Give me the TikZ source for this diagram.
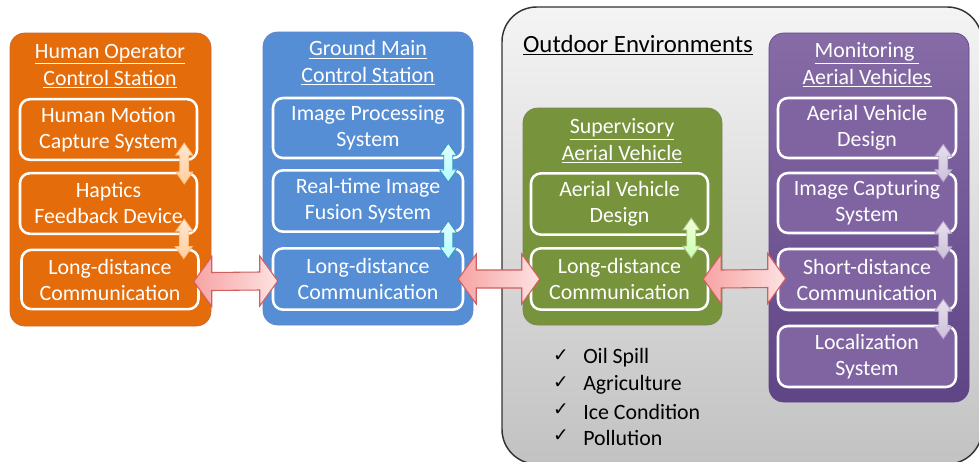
\documentclass[tikz,border=0pt]{standalone}
\usepackage{fontspec}
\setmainfont{Carlito}
\newfontfamily\symfont{DejaVu Sans}
\usetikzlibrary{calc}
\definecolor{orangeC}{HTML}{E46C0A}
\definecolor{blueC}{HTML}{558ED5}
\definecolor{greenC}{HTML}{77933C}
\definecolor{purpleC}{HTML}{8064A2}
\definecolor{purpleD}{HTML}{5F4585}
\definecolor{grayT}{HTML}{F4F4F4}
\definecolor{grayB}{HTML}{C2C2C2}
\definecolor{pinkL}{HTML}{F7A3A3}
\definecolor{pinkR}{HTML}{FDE2E2}
\definecolor{pinkD}{HTML}{D25E5E}
\tikzset{
  outerbox/.style={rounded corners=11pt, inner sep=0pt, line width=0.5pt},
  innerbox/.style={draw=white, line width=1.9pt, rounded corners=7.5pt, text=white,
     align=center, inner sep=0pt, font=\fontsize{16.4}{19.5}\selectfont},
  titletext/.style={text=white, align=center, inner sep=0pt, font=\fontsize{16.4}{19.5}\selectfont},
  bigarrow/.style={left color=pinkL, right color=pinkR, draw=pinkD, line width=0.8pt, line join=miter},
  oarrow/.style={top color=orange!18, bottom color=orange!38, draw=orange!50!white, line width=0.6pt},
  barrow/.style={top color=cyan!12, bottom color=cyan!30, draw=cyan!50!teal, line width=0.6pt},
  garrow/.style={top color=green!10!lime!15, bottom color=lime!40!green!30, draw=greenC!60!white, line width=0.6pt},
  parrow/.style={top color=purpleC!20, bottom color=purpleC!40, draw=purpleC!60!white, line width=0.6pt},
  checkitem/.style={anchor=west, inner sep=0pt, font=\fontsize{16.4}{19.5}\selectfont},
  checkmark/.style={inner sep=0pt, font=\symfont\fontsize{14}{14}\selectfont},
}
\newcommand\harrowpath[3]{%
  \path[#3] (#1) -- ($(#1)+(18,-25)$) -- ($(#1)+(18,-9)$) -- ($(#2)+(-18,-9)$) -- ($(#2)+(-18,-25)$) -- (#2)
   -- ($(#2)+(-18,25)$) -- ($(#2)+(-18,9)$) -- ($(#1)+(18,9)$) -- ($(#1)+(18,25)$) -- cycle;}
\newcommand\varrowpath[3]{%
  \path[#3] (#1) -- ($(#1)+(8.5,12)$) -- ($(#1)+(4.5,12)$) -- ($(#2)+(4.5,-12)$) -- ($(#2)+(8.5,-12)$) -- (#2)
   -- ($(#2)+(-8.5,-12)$) -- ($(#2)+(-4.5,-12)$) -- ($(#1)+(-4.5,12)$) -- ($(#1)+(-8.5,12)$) -- cycle;}
\begin{document}
\begin{tikzpicture}[x=0.75pt,y=-0.75pt]
\path[use as bounding box, fill=white] (0,0) rectangle (979,461);
\begin{scope}
\clip (0,0) rectangle (979,461);
\path[top color=grayT, bottom color=grayB, draw=black!80, line width=1.1pt, rounded corners=26pt]
  (502,7) rectangle (982,464);
\end{scope}
\node[anchor=center, inner sep=0pt, font=\fontsize{18.6}{22}\selectfont] (outdoor) at (638,45) {\underline{Outdoor Environments}};

% orange
\node[outerbox, fill=orangeC, draw=orangeC!70!purpleC, minimum width=150.75pt, minimum height=219.75pt] (orange) at (110.5,179.5) {};
\node[titletext] (otitle) at (110,66) {\underline{Human Operator}\\[0.5pt]\underline{Control Station}};
\node[innerbox, fill=orangeC, minimum width=132.75pt, minimum height=45.5pt] (o1) at (108.5,129.5) {Human Motion\\Capture System};
\node[innerbox, fill=orangeC, minimum width=132.75pt, minimum height=45.5pt] (o2) at (108.5,203.5) {Haptics\\Feedback Device};
\node[innerbox, fill=orangeC, minimum width=132.75pt, minimum height=44.5pt] (o3) at (110,279.5) {Long-distance\\Communication};

% blue
\node[outerbox, fill=blueC, draw=blueC!70!purpleC, minimum width=157.5pt, minimum height=219.75pt] (blue) at (368,178.5) {};
\node[titletext] (btitle) at (368,63) {\underline{Ground Main}\\[0.5pt]\underline{Control Station}};
\node[innerbox, fill=blueC, minimum width=142.5pt, minimum height=45pt] (b1) at (368,128) {Image Processing\\System};
\node[innerbox, fill=blueC, minimum width=142.5pt, minimum height=46pt] (b2) at (368,201) {Real-time Image\\Fusion System};
\node[innerbox, fill=blueC, minimum width=142.5pt, minimum height=46pt] (b3) at (368,279) {Long-distance\\Communication};

% green
\node[outerbox, fill=greenC, draw=greenC!70!purpleC, minimum width=149.25pt, minimum height=162.75pt] (green) at (622.5,216.5) {};
\node[titletext] (gtitle) at (622,141) {\underline{Supervisory}\\[0.5pt]\underline{Aerial Vehicle}};
\node[innerbox, fill=greenC, minimum width=132.75pt, minimum height=46pt] (g1) at (619.5,204) {Aerial Vehicle\\Design};
\node[innerbox, fill=greenC, minimum width=132.75pt, minimum height=46pt] (g2) at (619.5,279) {Long-distance\\Communication};

% purple
\node[outerbox, top color=purpleC!95!white, bottom color=purpleD, draw=purpleD, minimum width=150pt, minimum height=276.75pt] (purple) at (869,217.5) {};
\node[titletext] (ptitle) at (867,65) {\underline{Monitoring\ }\\[0.5pt]\underline{Aerial Vehicles}};
\node[innerbox, fill=purpleC, minimum width=133.5pt, minimum height=45pt] (p1) at (867,128) {Aerial Vehicle\\Design};
\node[innerbox, fill=purpleC, minimum width=133.5pt, minimum height=45pt] (p2) at (867,203) {Image Capturing\\System};
\node[innerbox, fill=purpleC, minimum width=133.5pt, minimum height=45.75pt] (p3) at (867,279.5) {Short-distance\\Communication};
\node[innerbox, fill=purpleC, minimum width=133.5pt, minimum height=45.75pt] (p4) at (867,356.5) {Localization\\System};

% checklist
\node[checkmark] (c1) at (561,356) {✓};
\node[checkmark] (c2) at (561,383) {✓};
\node[checkmark] (c3) at (561,410) {✓};
\node[checkmark] (c4) at (561,436) {✓};
\node[checkitem] (t1) at (583,358) {Oil Spill};
\node[checkitem] (t2) at (583,385) {Agriculture};
\node[checkitem] (t3) at (583,412) {Ice Condition};
\node[checkitem] (t4) at (583,438) {Pollution};

% big horizontal arrows
\coordinate (h1a) at ($(o3.east)+(-6,2)$);
\coordinate (h1b) at ($(b3.west)+(6,2)$);
\coordinate (h2a) at ($(b3.east)+(-6,0)$);
\coordinate (h2b) at ($(g2.west)+(10,0)$);
\coordinate (h3a) at ($(g2.east)+(-6,0)$);
\coordinate (h3b) at ($(p3.west)+(9,-1)$);
\harrowpath{h1a}{h1b}{bigarrow}
\harrowpath{h2a}{h2b}{bigarrow}
\harrowpath{h3a}{h3b}{bigarrow}

% small vertical arrows
\coordinate (v1a) at ($(o1.south east)+(-14,-18)$);
\coordinate (v1b) at ($(o2.north east)+(-14,12)$);
\coordinate (v2a) at ($(o2.south east)+(-14,-16)$);
\coordinate (v2b) at ($(o3.north east)+(-16,10)$);
\varrowpath{v1a}{v1b}{oarrow}
\varrowpath{v2a}{v2b}{oarrow}
\coordinate (v3a) at ($(b1.south east)+(-16,-16)$);
\coordinate (v3b) at ($(b2.north east)+(-16,13)$);
\coordinate (v4a) at ($(b2.south east)+(-16,-12)$);
\coordinate (v4b) at ($(b3.north east)+(-16,12)$);
\varrowpath{v3a}{v3b}{barrow}
\varrowpath{v4a}{v4b}{barrow}
\coordinate (v5a) at ($(g1.south east)+(-18,-18)$);
\coordinate (v5b) at ($(g2.north east)+(-18,11)$);
\varrowpath{v5a}{v5b}{garrow}
\coordinate (v6a) at ($(p1.south east)+(-14,-15)$);
\coordinate (v6b) at ($(p2.north east)+(-14,10)$);
\coordinate (v7a) at ($(p2.south east)+(-14,-13)$);
\coordinate (v7b) at ($(p3.north east)+(-14,11)$);
\coordinate (v8a) at ($(p3.south east)+(-14,-12)$);
\coordinate (v8b) at ($(p4.north east)+(-14,14)$);
\varrowpath{v6a}{v6b}{parrow}
\varrowpath{v7a}{v7b}{parrow}
\varrowpath{v8a}{v8b}{parrow}
\end{tikzpicture}
\end{document}
